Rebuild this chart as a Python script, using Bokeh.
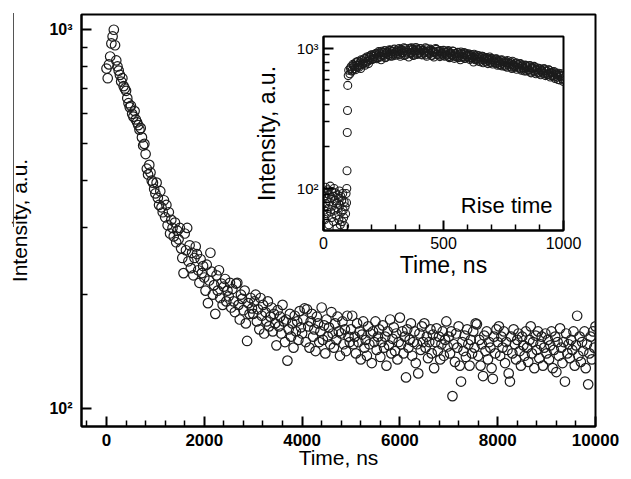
import math
from bokeh.plotting import figure
from bokeh.models import FixedTicker, Label, ColumnDataSource, Div
from bokeh.layouts import column
from bokeh.embed import file_html
from bokeh.resources import INLINE

# ---------------- data ----------------
MAIN_T_STEP = 25  # ns between samples of the main decay
MAIN_VALUES = [
    790, 745, 810, 850, 920, 960, 1000, 910, 830, 800, 780, 760, 730, 745, 710, 700, 690, 660, 640, 625,
    630, 600, 590, 610, 580, 570, 560, 545, 550, 520, 495, 500, 470, 430, 415, 440, 420, 400, 395, 380,
    370, 395, 360, 345, 375, 340, 330, 355, 320, 345, 305, 330, 290, 315, 300, 285, 310, 275, 295, 280,
    300, 265, 250, 228, 290, 262, 300, 245, 270, 235, 258, 225, 250, 268, 256, 232, 215, 248, 228, 238,
    222, 205, 240, 190, 218, 258, 230, 200, 212, 178, 225, 205, 232, 196, 214, 188, 210, 220, 192, 205,
    198, 215, 185, 207, 192, 180, 214, 215, 188, 172, 200, 195, 182, 205, 168, 151, 190, 178, 196, 184,
    178, 192, 200, 170, 183, 162, 196, 176, 188, 158, 180, 170, 192, 165, 175, 185, 160, 178, 168, 147,
    182, 165, 175, 158, 188, 170, 150, 172, 134, 162, 178, 155, 168, 145, 176, 160, 170, 152, 181, 164,
    158, 172, 184, 150, 183, 165, 145, 170, 178, 155, 162, 142, 175, 168, 150, 160, 185, 152, 166, 140,
    172, 155, 164, 148, 180, 158, 145, 168, 152, 175, 160, 138, 158, 170, 148, 162, 142, 176, 155, 150,
    162, 176, 148, 155, 140, 168, 150, 160, 135, 157, 170, 145, 152, 138, 165, 148, 158, 132, 160, 150,
    170, 143, 155, 162, 137, 150, 166, 145, 155, 130, 160, 147, 172, 140, 153, 164, 142, 158, 135, 150,
    174, 148, 160, 140, 155, 121, 162, 145, 152, 168, 138, 150, 160, 132, 148, 124, 158, 143, 165, 150,
    168, 145, 155, 136, 150, 162, 140, 157, 128, 150, 163, 142, 155, 135, 148, 160, 138, 152, 170, 146,
    155, 140, 160, 108, 148, 133, 158, 145, 165, 130, 118, 150, 142, 156, 137, 162, 148, 130, 152, 140,
    160, 145, 168, 167, 138, 152, 130, 148, 122, 156, 142, 160, 135, 150, 145, 128, 120, 155, 140, 162,
    150, 165, 138, 155, 145, 160, 132, 150, 143, 124, 118, 155, 140, 162, 148, 135, 152, 158, 142, 130,
    155, 147, 138, 160, 145, 133, 152, 165, 140, 150, 128, 156, 143, 160, 136, 148, 155, 130, 145, 158,
    140, 152, 135, 147, 160, 128, 143, 155, 125, 150, 138, 163, 145, 132, 150, 118, 158, 140, 148, 136,
    152, 143, 160, 130, 147, 176, 138, 155, 133, 150, 142, 160, 128, 148, 116, 140, 155, 135, 160, 145,
    165,
]
MAIN_TIME = [i * MAIN_T_STEP for i in range(len(MAIN_VALUES))]

INSET_RISE_TIME = [0, 2, 4, 6, 8, 10, 12, 14, 16, 18, 20, 22, 24, 26, 28, 30, 32, 34, 36, 38,
                   40, 42, 44, 46, 48, 50, 52, 54, 56, 58, 60, 62, 64, 66, 68, 70, 72, 74, 76, 78,
                   80, 82, 84, 86, 88, 90, 92, 94, 96, 97, 98, 99, 100, 101, 103, 105]
INSET_RISE_VALUES = [95, 70, 88, 60, 102, 78, 92, 66, 85, 98, 72, 55, 90, 80, 104, 68, 86, 62, 95, 75,
                     88, 58, 100, 70, 82, 93, 64, 78, 52, 90, 72, 85, 60, 96, 76, 55, 88, 68, 82, 58,
                     92, 70, 62, 80, 54, 74, 66, 92, 79, 100, 134, 251, 361, 545, 640, 700]
INSET_DECAY_STEP = 5
INSET_DECAY_START_A = 110
INSET_DECAY_VALUES_A = [
    660, 740, 700, 760, 720, 790, 735, 810, 760, 720, 820, 780, 845, 790, 870, 810, 880, 830, 900, 840,
    905, 850, 925, 860, 950, 880, 830, 935, 890, 965, 870, 940, 905, 980, 880, 950, 910, 990, 895, 960,
    915, 1000, 880, 965, 935, 1010, 900, 975, 940, 870, 1005, 920, 985, 890, 960, 1015, 905, 975, 930, 995,
    900, 970, 940, 1010, 880, 960, 925, 990, 895, 955, 870, 940, 985, 905, 960, 875, 945, 910, 970, 880,
    940, 895, 965, 860, 925, 890, 955, 850, 915, 870, 940, 885, 830, 920, 865, 935, 850, 900, 870, 915,
    835, 905, 860, 800, 885, 840, 895, 815, 870, 830, 880, 790, 855, 815, 860, 780, 840, 800, 850, 775,
    830, 790, 845, 760, 815, 770, 825, 750, 800, 760, 810, 735, 790, 745, 800, 720, 770, 735, 785, 710,
    765, 725, 780, 700, 750, 715, 760, 690, 740, 700, 755, 670, 725, 690, 735, 660, 710, 675, 720, 650,
    700, 665, 715, 640, 690, 655, 700, 625, 670, 640, 685, 610, 655, 625, 665, 595, 640, 610, 580,
]
INSET_DECAY_START_B = 112.5
INSET_DECAY_VALUES_B = [
    720, 690, 770, 745, 705, 800, 760, 735, 790, 830, 770, 805, 760, 850, 815, 780, 860, 895, 835, 875,
    880, 915, 845, 900, 930, 870, 955, 905, 935, 860, 920, 950, 890, 970, 925, 885, 955, 915, 940, 975,
    950, 905, 985, 925, 960, 890, 1000, 945, 915, 975, 935, 1010, 900, 965, 945, 990, 920, 960, 1000, 910,
    975, 925, 955, 900, 995, 945, 915, 970, 890, 950, 930, 1000, 910, 955, 895, 965, 925, 890, 945, 915,
    900, 950, 875, 930, 905, 960, 880, 920, 895, 935, 860, 910, 945, 875, 905, 850, 925, 880, 895, 855,
    890, 850, 875, 910, 830, 865, 845, 885, 805, 855, 880, 830, 860, 800, 845, 820, 870, 790, 830, 815,
    805, 840, 780, 820, 795, 760, 830, 785, 805, 745, 790, 820, 765, 780, 735, 810, 760, 745, 790, 735,
    750, 775, 715, 760, 730, 690, 755, 725, 705, 750, 680, 730, 715, 745, 680, 700, 725, 665, 705, 690,
    680, 715, 660, 690, 650, 705, 670, 640, 680, 655, 625, 670, 645, 600, 650, 630, 660, 605,
]
INSET_TIME = (INSET_RISE_TIME
              + [INSET_DECAY_START_A + i * INSET_DECAY_STEP for i in range(len(INSET_DECAY_VALUES_A))]
              + [INSET_DECAY_START_B + i * INSET_DECAY_STEP for i in range(len(INSET_DECAY_VALUES_B))])
INSET_VALUES = INSET_RISE_VALUES + INSET_DECAY_VALUES_A + INSET_DECAY_VALUES_B

MAIN_X_TICKS = [0, 2000, 4000, 6000, 8000, 10000]
MAIN_X_MINOR = [-400] + [t for t in range(400, 10000, 400) if t % 2000 != 0]
Y_TICKS = [100, 1000]
Y_TICK_LABELS = ["10\u00b2", "10\u00b3"]
MAIN_Y_MINOR = [200, 300, 400, 500, 600, 700, 800, 900]
INSET_X_TICKS = [0, 500, 1000]
INSET_X_MINOR = [100, 200, 300, 400, 600, 700, 800, 900]
INSET_Y_MINOR = [60, 70, 80, 90, 200, 300, 400, 500, 600, 700, 800, 900]

X_TITLE = "Time, ns"
Y_TITLE = "Intensity, a.u."
INSET_NOTE = "Rise time"

# ---------------- geometry ----------------
FONT = "Liberation Sans"
MAIN_XR = (-511, 10000)
MAIN_YR = (89.8, 1097)
INSET_XR = (0, 1000)
INSET_YR = (50.1, 1218)

# main canvas sits at the page origin
M_L, M_R, M_T, M_B = 81, 30, 14, 49
MF_W, MF_H = 514, 412
MAIN_W, MAIN_H = M_L + MF_W + M_R, M_T + MF_H + M_B

# inset canvas: same left/right borders as main (column aligns them)
I_L, I_R, I_T, I_B = M_L, M_R, 8, 54
IN_FW, IN_FH = 240, 194
IN_W, IN_H = I_L + IN_FW + I_R, I_T + IN_FH + I_B
IN_LEFT, IN_TOP = 323 - I_L, 36 - I_T
IF_L, IF_T = IN_LEFT + I_L, IN_TOP + I_T


def lin_at(px, f_l, f_w, r):
    return r[0] + (px - f_l) / f_w * (r[1] - r[0])


def log_at(py, f_t, f_h, r):
    lo, hi = math.log10(r[0]), math.log10(r[1])
    return 10 ** (hi - (py - f_t) / f_h * (hi - lo))


def style_axes(p, xticks, xminor, yminor, fs_x, fs_y, weight, standoff_x, standoff_y,
               title_fs, title_standoff_x, title_standoff_y):
    p.xaxis.ticker = FixedTicker(ticks=xticks, minor_ticks=xminor)
    p.yaxis.ticker = FixedTicker(ticks=Y_TICKS, minor_ticks=yminor)
    p.yaxis.major_label_overrides = {t: lab for t, lab in zip(Y_TICKS, Y_TICK_LABELS)}
    for ax in (p.xaxis[0], p.yaxis[0]):
        ax.axis_line_width = 2
        ax.axis_line_color = "black"
        ax.major_tick_line_width = 2
        ax.minor_tick_line_width = 1.5
        ax.major_tick_line_color = "black"
        ax.minor_tick_line_color = "black"
        ax.major_tick_in = 10
        ax.major_tick_out = 0
        ax.minor_tick_in = 6
        ax.minor_tick_out = 0
        ax.major_label_text_font = FONT
        ax.major_label_text_font_style = weight
        ax.major_label_text_color = "black"
        ax.axis_label_text_font = FONT
        ax.axis_label_text_font_style = "normal"
        ax.axis_label_text_font_size = f"{title_fs}px"
        ax.axis_label_text_color = "black"
    p.xaxis.axis_label = X_TITLE
    p.yaxis.axis_label = Y_TITLE
    p.xaxis.major_label_text_font_size = f"{fs_x}px"
    p.yaxis.major_label_text_font_size = f"{fs_y}px"
    p.xaxis.major_label_standoff = standoff_x
    p.yaxis.major_label_standoff = standoff_y
    p.xaxis.axis_label_standoff = title_standoff_x
    p.yaxis.axis_label_standoff = title_standoff_y
    p.xgrid.visible = False
    p.ygrid.visible = False
    p.outline_line_color = "black"
    p.outline_line_width = 2
    p.outline_line_alpha = 1


# ---------------- main figure ----------------
main = figure(width=MAIN_W, height=MAIN_H, x_range=MAIN_XR, y_range=MAIN_YR, y_axis_type="log",
              output_backend="svg", toolbar_location=None,
              min_border_left=M_L, min_border_right=M_R, min_border_top=M_T, min_border_bottom=M_B,
              background_fill_color="white", border_fill_color="white")
style_axes(main, MAIN_X_TICKS, MAIN_X_MINOR, MAIN_Y_MINOR, 17, 16, "bold", 7, 9, 21, -3, 15)
main_src = ColumnDataSource(dict(t=MAIN_TIME, v=MAIN_VALUES))
main.scatter("t", "v", source=main_src, marker="circle", size=9.5, fill_alpha=0,
             line_color="#1c1c1c", line_width=1.2)

# ---------------- inset figure ----------------
inset = figure(width=IN_W, height=IN_H, x_range=INSET_XR, y_range=INSET_YR, y_axis_type="log",
               output_backend="svg", toolbar_location=None,
               min_border_left=I_L, min_border_right=I_R, min_border_top=I_T, min_border_bottom=I_B,
               background_fill_color="white", border_fill_alpha=0,
               styles={"position": "absolute", "left": f"{IN_LEFT}px", "top": f"{IN_TOP}px"})
style_axes(inset, INSET_X_TICKS, INSET_X_MINOR, INSET_Y_MINOR, 16, 15, "normal", 6, 5, 23, 0, 14)
inset_src = ColumnDataSource(dict(t=INSET_TIME, v=INSET_VALUES))
inset.scatter("t", "v", source=inset_src, marker="circle", size=8, fill_alpha=0,
              line_color="#1c1c1c", line_width=1.1)

inset.add_layout(Label(x=lin_at(552, IF_L, IN_FW, INSET_XR), y=log_at(205, IF_T, IN_FH, INSET_YR),
                       text=INSET_NOTE, text_font=FONT, text_font_size="22px", text_align="right",
                       text_baseline="alphabetic", text_color="black"))

# thin vertical rule at the far left edge of the scanned figure
edge_rule = Div(text="", width=2, height=214, margin=0,
                styles={"position": "absolute", "left": "13px", "top": "13px",
                        "border-left": "1.5px solid #555"})

layout = column(main, inset, edge_rule, styles={"position": "relative"})

with open("out.html", "w") as f:
    f.write(file_html(layout, INLINE))
